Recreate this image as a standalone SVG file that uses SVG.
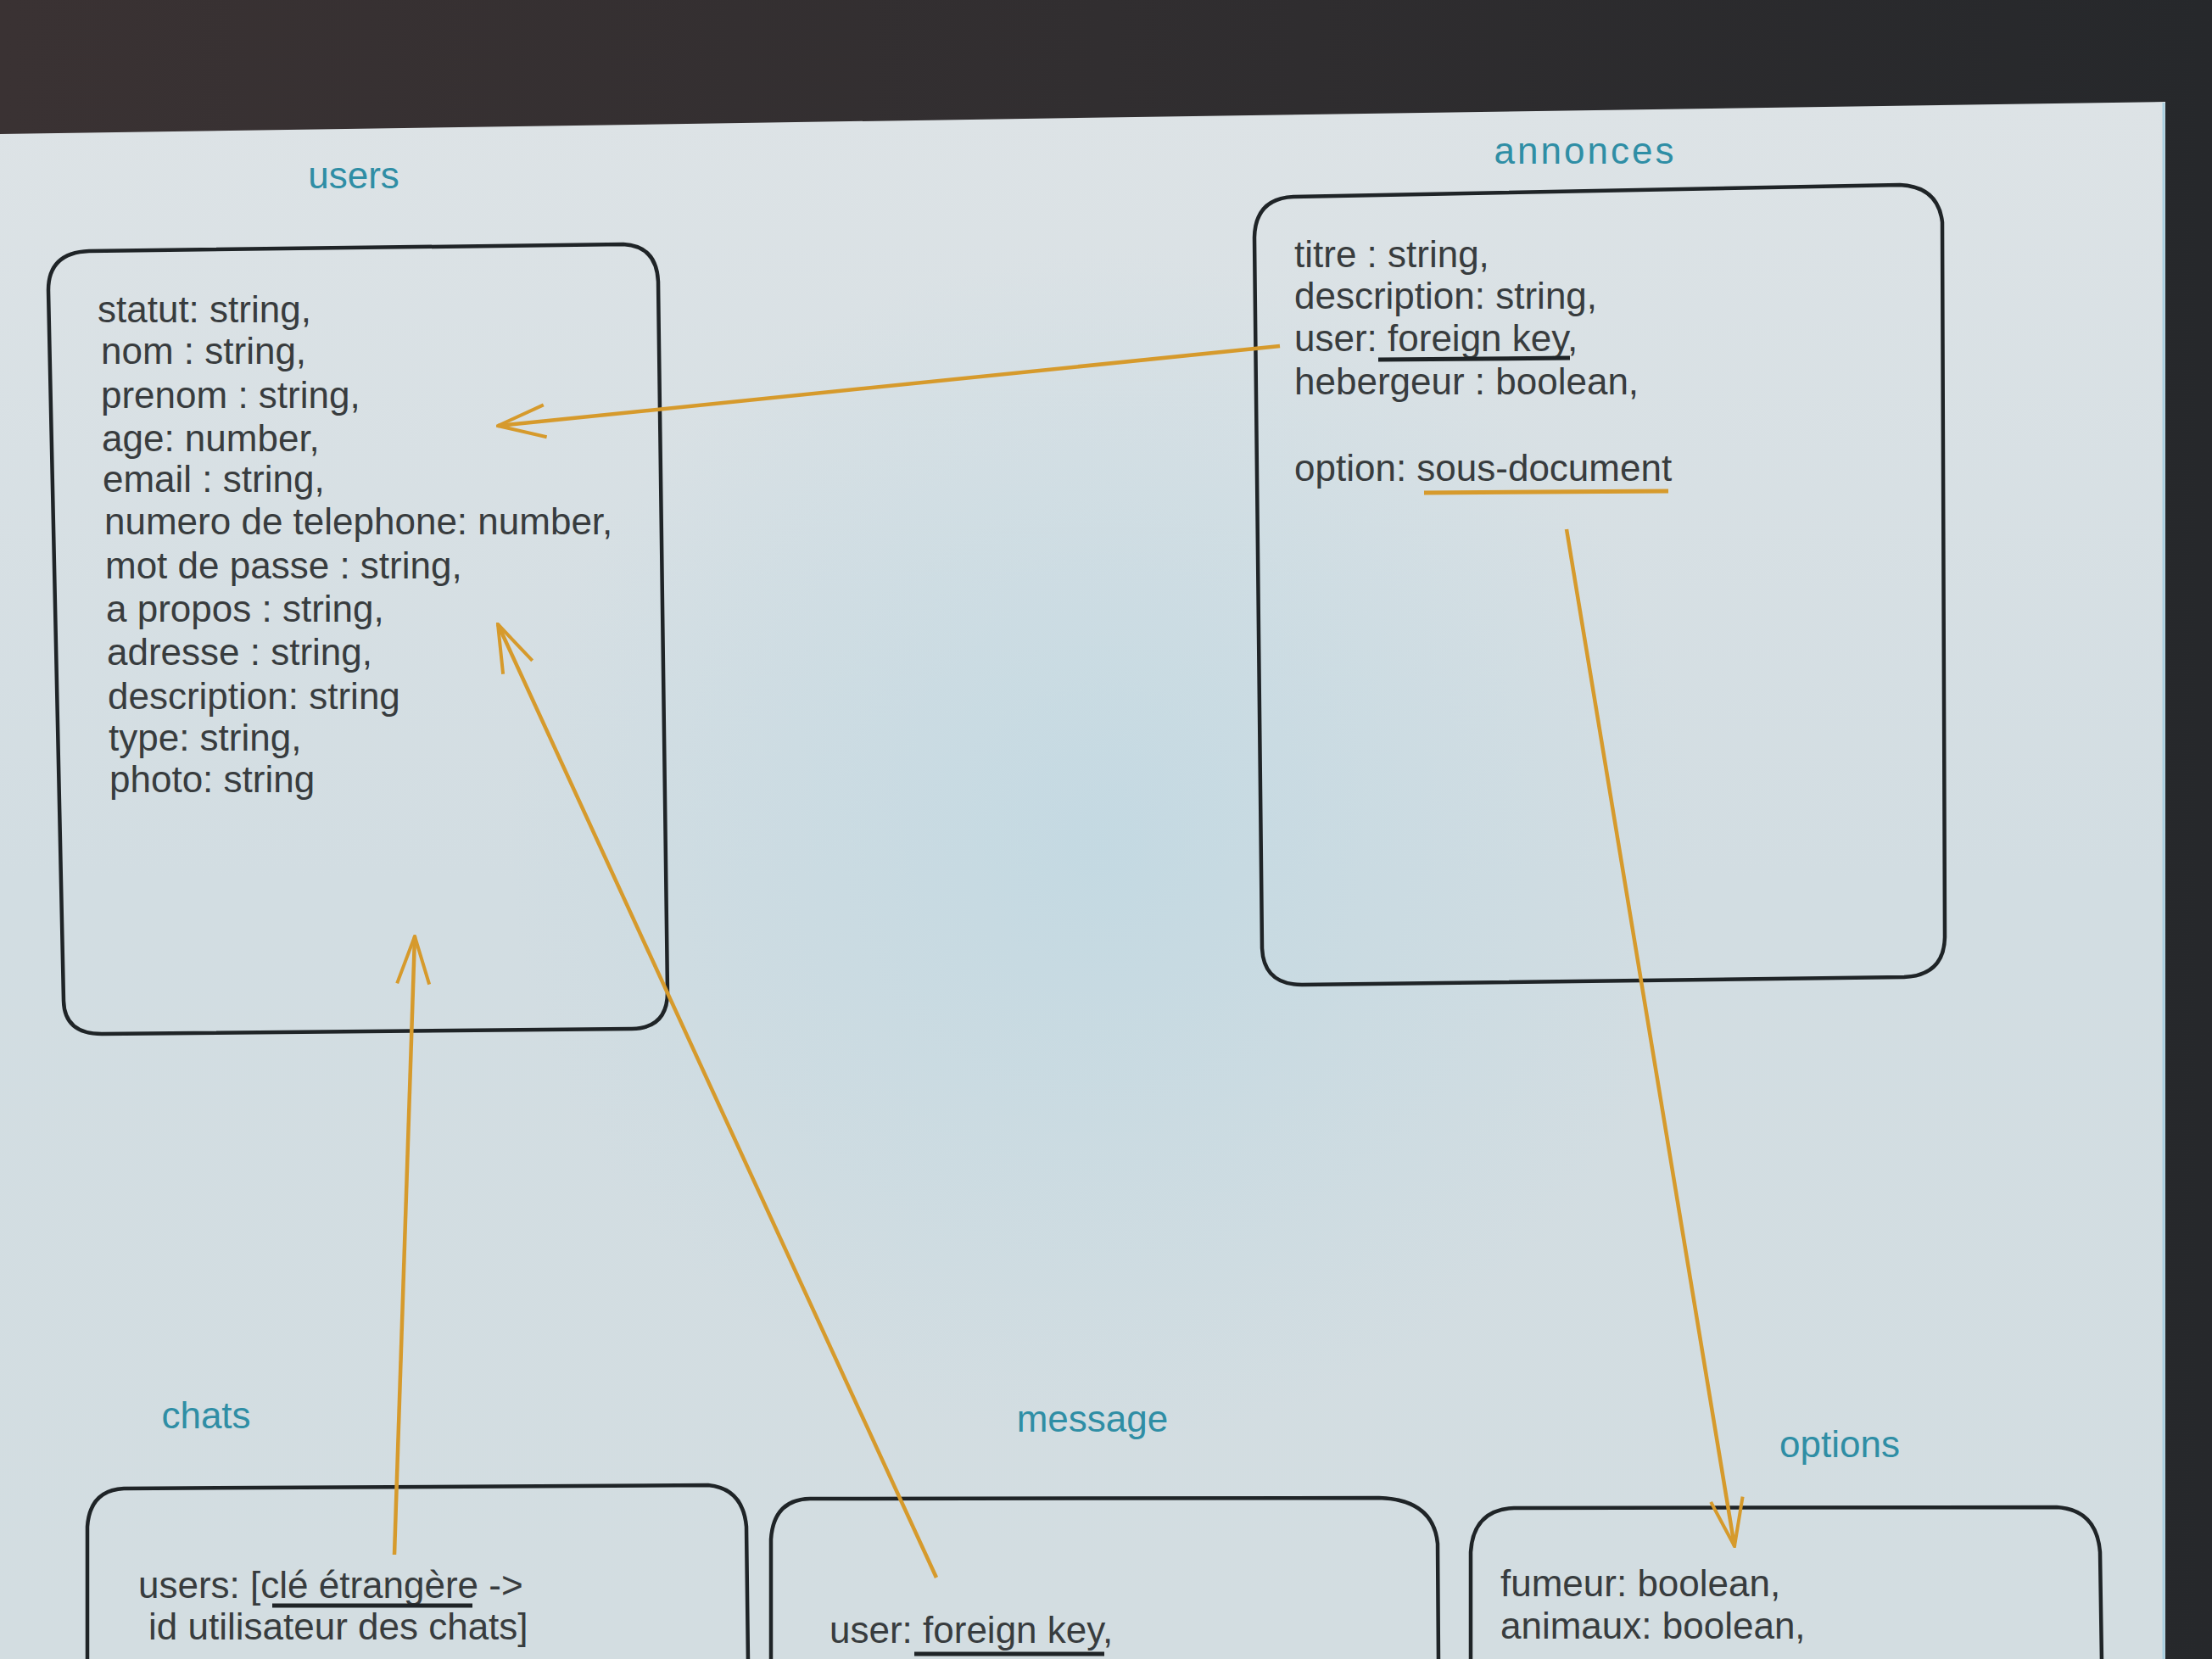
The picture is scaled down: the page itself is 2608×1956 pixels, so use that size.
<svg xmlns="http://www.w3.org/2000/svg" width="2608" height="1956" viewBox="0 0 2608 1956">
<defs>
<linearGradient id="dark" x1="0" y1="0" x2="1" y2="0">
<stop offset="0" stop-color="#3a3233"/>
<stop offset="0.5" stop-color="#312e30"/>
<stop offset="1" stop-color="#26282b"/>
</linearGradient>
<linearGradient id="screen" x1="0" y1="0" x2="0" y2="1">
<stop offset="0" stop-color="#dde3e6"/>
<stop offset="0.5" stop-color="#d2dde2"/>
<stop offset="1" stop-color="#d3dde1"/>
</linearGradient>
<radialGradient id="tint" cx="1300" cy="1000" r="700" gradientUnits="userSpaceOnUse">
<stop offset="0" stop-color="#b8d6e2" stop-opacity="0.55"/>
<stop offset="1" stop-color="#b8d6e2" stop-opacity="0"/>
</radialGradient>
<marker id="arr" viewBox="0 0 60 44" markerWidth="60" markerHeight="44" refX="58" refY="22" orient="auto" markerUnits="userSpaceOnUse">
<path d="M2,3 L58,22 L2,41" fill="none" stroke="#d69a2c" stroke-width="4"/>
</marker>
<style>
.box{fill:none;stroke:#1f2427;stroke-width:4.5;stroke-linejoin:round}
.lbl{font-family:"Liberation Sans",Arial,sans-serif;font-size:44px;fill:#2f8ea5;text-anchor:middle}
.t{font-family:"Liberation Sans",Arial,sans-serif;font-size:44px;fill:#383c3e}
.link{fill:none;stroke:#d69a2c;stroke-width:4.5;marker-end:url(#arr)}
.ul{stroke:#1f2427;stroke-width:5}
.ulo{stroke:#d69a2c;stroke-width:5}
</style>
</defs>
<rect x="0" y="0" width="2608" height="1956" fill="url(#dark)"/>
<polygon points="0,158 2553,120 2553,1956 0,1956" fill="url(#screen)"/>
<polygon points="0,158 2553,120 2553,1956 0,1956" fill="url(#tint)"/>
<line x1="2551" y1="121" x2="2551" y2="1956" stroke="#a9cfe0" stroke-width="3"/>

<g id="users">
<text class="lbl" x="417" y="222">users</text>
<path class="box" d="M105,296 L735,288 Q774,290 776,332 L787,1170 Q787,1212 745,1213 L120,1219 Q76,1219 75,1180 L57,342 Q57,298 105,296 Z"/>
<text class="t" x="115" y="380">statut: string,</text>
<text class="t" x="119" y="429">nom : string,</text>
<text class="t" x="119" y="481">prenom : string,</text>
<text class="t" x="120" y="532">age: number,</text>
<text class="t" x="121" y="580">email : string,</text>
<text class="t" x="123" y="630">numero de telephone: number,</text>
<text class="t" x="124" y="682">mot de passe : string,</text>
<text class="t" x="125" y="733">a propos : string,</text>
<text class="t" x="126" y="784">adresse : string,</text>
<text class="t" x="127" y="836">description: string</text>
<text class="t" x="128" y="885">type: string,</text>
<text class="t" x="129" y="934">photo: string</text>
</g>

<g id="annonces">
<text class="lbl" x="1869" y="193" letter-spacing="3">annonces</text>
<path class="box" d="M1525,232 L2240,218 Q2285,220 2290,262 L2293,1105 Q2292,1150 2245,1152 L1535,1161 Q1490,1161 1488,1118 L1479,280 Q1480,234 1525,232 Z"/>
<text class="t" x="1526" y="315">titre : string,</text>
<text class="t" x="1526" y="364">description: string,</text>
<text class="t" x="1526" y="414">user: foreign key,</text>
<line class="ul" x1="1625" y1="424" x2="1851" y2="422"/>
<text class="t" x="1526" y="465">hebergeur : boolean,</text>
<text class="t" x="1526" y="567">option: sous-document</text>
<line class="ulo" x1="1679" y1="581" x2="1967" y2="579"/>
</g>

<g id="chats">
<text class="lbl" x="243" y="1684">chats</text>
<path class="box" d="M103,1960 L103,1800 Q106,1757 146,1755 L835,1751 Q876,1755 880,1800 L882,1960"/>
<text class="t" x="163" y="1884">users: [clé étrangère -&gt;</text>
<line class="ul" x1="321" y1="1893" x2="557" y2="1893"/>
<text class="t" x="175" y="1933">id utilisateur des chats]</text>
</g>

<g id="message">
<text class="lbl" x="1288" y="1688">message</text>
<path class="box" d="M909,1960 L909,1815 Q912,1768 955,1767 L1626,1766 Q1690,1768 1695,1820 L1696,1960"/>
<text class="t" x="978" y="1937">user: foreign key,</text>
<line class="ul" x1="1078" y1="1950" x2="1302" y2="1950"/>
</g>

<g id="options">
<text class="lbl" x="2169" y="1718">options</text>
<path class="box" d="M1734,1960 L1734,1830 Q1737,1780 1785,1778 L2425,1777 Q2472,1780 2476,1830 L2478,1960"/>
<text class="t" x="1769" y="1882">fumeur: boolean,</text>
<text class="t" x="1769" y="1932">animaux: boolean,</text>
</g>

<g id="connectors">
<line class="link" x1="1509" y1="408" x2="587" y2="502"/>
<line class="link" x1="465" y1="1833" x2="489" y2="1104"/>
<line class="link" x1="1104" y1="1860" x2="587" y2="736"/>
<line class="link" x1="1847" y1="624" x2="2045" y2="1823"/>
</g>
</svg>
